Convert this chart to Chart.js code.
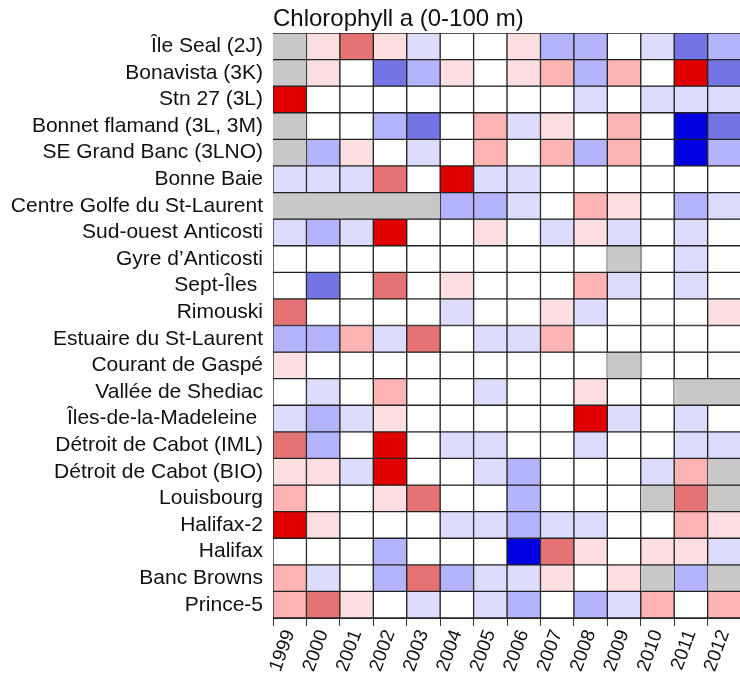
<!DOCTYPE html>
<html>
<head>
<meta charset="utf-8">
<script src="https://cdn.jsdelivr.net/npm/chart.js@4"></script>
<style>
  html, body { margin: 0; padding: 0; background: #ffffff; overflow: hidden; }
  #wrap { width: 747px; height: 673px; }
</style>
</head>
<body>
<div id="wrap"><canvas id="chl"></canvas></div>
<script>
// Années (colonnes)
const years = ['1999', '2000', '2001', '2002', '2003', '2004', '2005',
               '2006', '2007', '2008', '2009', '2010', '2011', '2012'];

// Stations / régions (lignes, de haut en bas)
const stations = [
    'Île Seal (2J)',
    'Bonavista (3K)',
    'Stn 27 (3L)',
    'Bonnet flamand (3L, 3M)',
    'SE Grand Banc (3LNO)',
    'Bonne Baie',
    'Centre Golfe du St-Laurent',
    'Sud-ouest Anticosti',
    'Gyre d\u2019Anticosti',
    'Sept-Îles ',
    'Rimouski',
    'Estuaire du St-Laurent',
    'Courant de Gaspé',
    'Vallée de Shediac',
    'Îles-de-la-Madeleine ',
    'Détroit de Cabot (IML)',
    'Détroit de Cabot (BIO)',
    'Louisbourg',
    'Halifax-2',
    'Halifax',
    'Banc Browns',
    'Prince-5'
];

// Classes d'anomalie (-4 .. +4), null = pas de données
const levels = [
    [null, 1, 3, 1, -1, 0, 0, 1, -2, -2, 0, -1, -3, -2],
    [null, 1, 0, -3, -2, 1, 0, 1, 2, -2, 2, 0, 4, -3],
    [4, 0, 0, 0, 0, 0, 0, 0, 0, -1, 0, -1, -1, -1],
    [null, 0, 0, -2, -3, 0, 2, -1, 1, 0, 2, 0, -4, -3],
    [null, -2, 1, 0, -1, 0, 2, 0, 2, -2, 2, 0, -4, -2],
    [-1, -1, -1, 3, 0, 4, -1, -1, 0, 0, 0, 0, 0, 0],
    [null, null, null, null, null, -2, -2, -1, 0, 2, 1, 0, -2, -1],
    [-1, -2, -1, 4, 0, 0, 1, 0, -1, 1, -1, 0, -1, 0],
    [0, 0, 0, 0, 0, 0, 0, 0, 0, 0, null, 0, -1, 0],
    [0, -3, 0, 3, 0, 1, 0, 0, 0, 2, -1, 0, -1, 0],
    [3, 0, 0, 0, 0, -1, 0, 0, 1, -1, 0, 0, 0, 1],
    [-2, -2, 2, -1, 3, 0, -1, -1, 2, 0, 0, 0, 0, 0],
    [1, 0, 0, 0, 0, 0, 0, 0, 0, 0, null, 0, 0, 0],
    [0, -1, 0, 2, 0, 0, -1, 0, 0, 1, 0, 0, null, null],
    [-1, -2, -1, 1, 0, 0, 0, 0, 0, 4, -1, 0, -1, 0],
    [3, -2, 0, 4, 0, -1, -1, 0, 0, -1, 0, 0, -1, -1],
    [1, 1, -1, 4, 0, 0, -1, -2, 0, 0, 0, -1, 2, null],
    [2, 0, 0, 1, 3, 0, 0, -2, 0, 0, 0, null, 3, null],
    [4, 1, 0, 0, 0, -1, -1, -2, -1, -1, 0, 0, 2, 1],
    [0, 0, 0, -2, 0, 0, 0, -4, 3, 1, 0, 1, 1, -1],
    [2, -1, 0, -2, 3, -2, -1, -1, 1, 0, 1, null, -2, null],
    [2, 3, 1, 0, -1, 0, -1, -2, 0, -2, -1, 2, 0, 2]
];

// Palette bleu-blanc-rouge
const PALETTE = {
    '-4': '#0000e0',
    '-3': '#7474e4',
    '-2': '#b4b4fc',
    '-1': '#dddcfc',
    '0': '#ffffff',
    '1': '#fedfe1',
    '2': '#ffb4b4',
    '3': '#e57373',
    '4': '#e00000'
};
const NA_COLOR = '#c8c8c8';
const LINE_COLOR = '#222222';
const FONT = "'Liberation Sans', Arial, sans-serif";

function cellColor(v) {
    return v === null ? NA_COLOR : PALETTE[String(v)];
}

// Les cases sans données n'ont pas de traits verticaux (cases grises fusionnées)
function cellBorder(v) {
    return v === null ? { top: 1, bottom: 1, left: 0, right: 0 } : 1;
}

// fond gris sous la grille : évite les joints clairs entre cases grises voisines
const plotBackground = {
    id: 'plotBackground',
    beforeDatasetsDraw(chart) {
        const {ctx, chartArea} = chart;
        ctx.save();
        ctx.fillStyle = NA_COLOR;
        ctx.fillRect(chartArea.left, chartArea.top, chartArea.width, chartArea.height);
        ctx.restore();
    }
};

const datasets = stations.map((name, i) => ({
    label: name,
    data: years.map(() => 1),
    backgroundColor: levels[i].map(cellColor),
    borderColor: LINE_COLOR,
    borderWidth: levels[i].map(cellBorder),
    borderSkipped: false,
    barPercentage: 1,
    categoryPercentage: 1
}));

new Chart(document.getElementById('chl').getContext('2d'), {
    type: 'bar',
    data: { labels: years, datasets: datasets },
    plugins: [plotBackground],
    options: {
        responsive: true,
        maintainAspectRatio: false,
        animation: false,
        layout: { padding: { left: 0, right: 1, top: 0, bottom: 0 } },
        plugins: {
            legend: { display: false },
            tooltip: { enabled: false }
        },
        scales: {
            x: {
                type: 'category',
                position: 'bottom',
                stacked: true,
                offset: true,
                grid: {
                    display: true,
                    offset: true,
                    drawOnChartArea: false,
                    drawTicks: true,
                    tickLength: 8,
                    color: '#333333',
                    lineWidth: 1
                },
                border: { display: true, color: LINE_COLOR, width: 1 },
                ticks: {
                    color: '#111111',
                    font: { family: FONT, size: 19 },
                    minRotation: 70,
                    maxRotation: 70,
                    autoSkip: false,
                    padding: 1
                },
                afterFit: (scale) => { scale.height = 55; }
            },
            x2: {
                type: 'category',
                position: 'top',
                labels: years,
                offset: true,
                grid: { display: false, drawTicks: false },
                border: { display: true, color: LINE_COLOR, width: 1 },
                ticks: { display: false },
                title: {
                    display: true,
                    text: 'Chlorophyll a (0-100 m)',
                    align: 'start',
                    color: '#111111',
                    font: { family: FONT, size: 24 },
                    padding: { top: 5, bottom: 0 }
                },
                afterFit: (scale) => { scale.height = 33; }
            },
            y: {
                type: 'linear',
                position: 'left',
                stacked: true,
                reverse: true,
                min: 0,
                max: stations.length,
                grid: { display: false, drawTicks: false },
                border: { display: true, color: LINE_COLOR, width: 1 },
                afterBuildTicks: (scale) => {
                    scale.ticks = stations.map((s, i) => ({ value: i + 0.5 }));
                },
                ticks: {
                    color: '#111111',
                    font: { family: FONT, size: 21 },
                    padding: 10,
                    autoSkip: false,
                    callback: (value) => stations[Math.floor(value)]
                },
                afterFit: (scale) => { scale.width = 273; }
            }
        }
    }
});
</script>
</body>
</html>
